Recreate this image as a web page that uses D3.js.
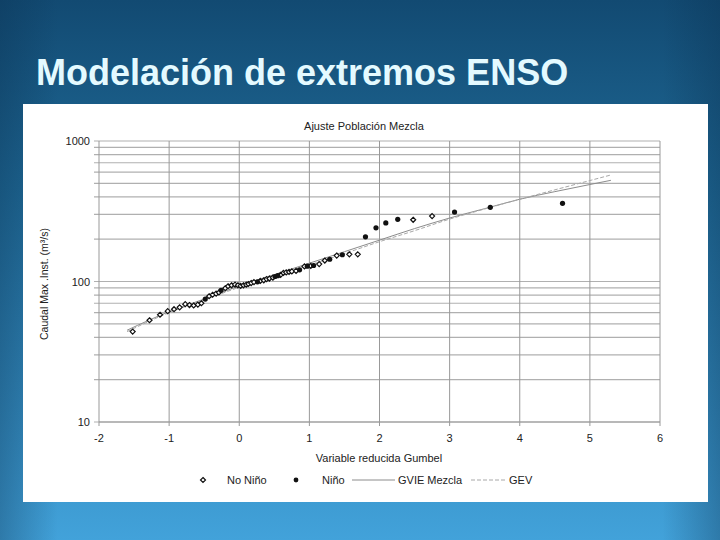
<!DOCTYPE html>
<html><head><meta charset="utf-8">
<script src="https://cdn.jsdelivr.net/npm/d3@7"></script>
<style>html,body{margin:0;padding:0;background:#1b5a84;}svg{display:block;}</style>
</head><body>
<script>
// ---- data ----
const noNinoU = [-1.52,-1.28,-1.13,-1.02,-0.93,-0.85,-0.77,-0.71,-0.65,-0.59,-0.54,-0.43,-0.38,-0.33,-0.29,-0.20,-0.16,-0.11,-0.06,-0.02,0.02,0.06,0.10,0.13,0.17,0.21,0.30,0.35,0.39,0.43,0.48,0.59,0.63,0.67,0.71,0.75,0.81,0.93,1.02,1.14,1.22,1.39,1.57,1.69,2.48,2.75];
const noNinoQ = [44,53,58,61.5,63.5,65.5,69,68,67.5,68.5,70,78.5,80.5,82,83.5,89.5,92.5,94,95,94,93,94,95,96,97.5,99,101,102,104,105,106.5,111.5,115,116,117,118,119,128,129,133,141,153,156,156,275,292];
const ninoU = [-0.485,-0.26,0.26,0.51,0.55,0.86,0.97,1.06,1.29,1.47,1.80,1.95,2.09,2.26,3.07,3.58,4.61];
const ninoQ = [75,86.5,99.5,108.5,110,121,128.5,130,144,155,208,241,261,277,312,337,360];
const fitU  = [-1.6,-1,-0.5,0,0.5,1,1.5,2,2.5,3,3.5,4,4.5,5,5.3];
const gvieQ = [45,61,75,93,112,135,163,197,238,283,330,385,436,490,525];
const gevQ  = [44,60,74,91,110,131,158,192,230,278,328,385,449,523,573];
const xTicks = [-2,-1,0,1,2,3,4,5,6];
const yTicks = [10,100,1000];
const slideTitle = "Modelación de extremos ENSO";
const chartTitle = "Ajuste Población Mezcla";
const xTitle = "Variable reducida Gumbel";
const yTitle = "Caudal Max .Inst. (m³/s)";
const legendItems = ["No Niño","Niño","GVIE Mezcla","GEV"];

const W = 720, H = 540;
const svg = d3.select("body").append("svg").attr("width", W).attr("height", H);
const defs = svg.append("defs");
const g1 = defs.append("linearGradient").attr("id","bg").attr("x1",0).attr("y1",0).attr("x2",0).attr("y2",1);
g1.append("stop").attr("offset","0%").attr("stop-color","#124a72");
g1.append("stop").attr("offset","35%").attr("stop-color","#1f6996");
g1.append("stop").attr("offset","100%").attr("stop-color","#42a2da");
const g2 = defs.append("linearGradient").attr("id","side").attr("x1",0).attr("y1",0).attr("x2",1).attr("y2",0);
g2.append("stop").attr("offset","0%").attr("stop-color","#0a3050").attr("stop-opacity",0.35);
g2.append("stop").attr("offset","8%").attr("stop-color","#0a3050").attr("stop-opacity",0);
g2.append("stop").attr("offset","92%").attr("stop-color","#0a3050").attr("stop-opacity",0);
g2.append("stop").attr("offset","100%").attr("stop-color","#0a3050").attr("stop-opacity",0.35);
svg.append("rect").attr("width",W).attr("height",H).attr("fill","url(#bg)");
svg.append("rect").attr("width",W).attr("height",H).attr("fill","url(#side)");

svg.append("text").attr("x",36).attr("y",85)
  .attr("font-family","Liberation Sans, Arial, sans-serif").attr("font-size",36).attr("font-weight","bold")
  .attr("fill","#e4faff").text(slideTitle);

// white panel
svg.append("rect").attr("x",23).attr("y",104).attr("width",685).attr("height",398).attr("fill","#ffffff");

const x = d3.scaleLinear().domain([-2,6]).range([99,660]);
const y = d3.scaleLog().domain([10,1000]).range([422,141]);
const font = "Liberation Sans, Arial, sans-serif";

// gridlines
const minor = y.ticks();
svg.append("g").selectAll("line").data(minor).join("line")
  .attr("x1",94).attr("x2",660).attr("y1",d=>y(d)).attr("y2",d=>y(d))
  .attr("stroke","#b0b0b0").attr("stroke-width",1.2);
svg.append("g").selectAll("line").data(xTicks).join("line")
  .attr("x1",d=>x(d)).attr("x2",d=>x(d)).attr("y1",141).attr("y2",426)
  .attr("stroke","#999").attr("stroke-width",1);
svg.append("line").attr("x1",99).attr("x2",660).attr("y1",y(10)).attr("y2",y(10)).attr("stroke","#999");

// axes labels
svg.append("g").selectAll("text").data(yTicks).join("text")
  .attr("x",90).attr("y",d=>y(d)+4).attr("text-anchor","end")
  .attr("font-family",font).attr("font-size",11).attr("fill","#222").text(d=>d);
svg.append("g").selectAll("text").data(xTicks).join("text")
  .attr("x",d=>x(d)).attr("y",442).attr("text-anchor","middle")
  .attr("font-family",font).attr("font-size",11).attr("fill","#222").text(d=>d);

svg.append("text").attr("x",364).attr("y",130).attr("text-anchor","middle")
  .attr("font-family",font).attr("font-size",11).attr("fill","#222").text(chartTitle);
svg.append("text").attr("x",379).attr("y",462).attr("text-anchor","middle")
  .attr("font-family",font).attr("font-size",11).attr("fill","#222").text(xTitle);
svg.append("text").attr("transform","translate(48,284) rotate(-90)").attr("text-anchor","middle")
  .attr("font-family",font).attr("font-size",10.5).attr("fill","#222").text(yTitle);

// fitted lines
const fitData = (arr) => fitU.map((u,i)=>[u,arr[i]]);
const line = d3.line().x(d=>x(d[0])).y(d=>y(d[1])).curve(d3.curveMonotoneX);
svg.append("path").attr("d",line(fitData(gvieQ))).attr("fill","none").attr("stroke","#8c8c8c").attr("stroke-width",1);
svg.append("path").attr("d",line(fitData(gevQ))).attr("fill","none").attr("stroke","#a8a8a8").attr("stroke-width",1).attr("stroke-dasharray","4,2");

// points
const diamond = d3.symbol().type(d3.symbolDiamond2).size(16);
svg.append("g").selectAll("path").data(noNinoU.map((u,i)=>[u,noNinoQ[i]])).join("path")
  .attr("d",diamond).attr("transform",d=>`translate(${x(d[0])},${y(d[1])})`)
  .attr("fill","#fff").attr("stroke","#111").attr("stroke-width",1.2);
svg.append("g").selectAll("circle").data(ninoU.map((u,i)=>[u,ninoQ[i]])).join("circle")
  .attr("cx",d=>x(d[0])).attr("cy",d=>y(d[1])).attr("r",2.6).attr("fill","#111");

// legend
const ly = 480;
svg.append("path").attr("d",diamond).attr("transform",`translate(203,${ly})`).attr("fill","#fff").attr("stroke","#111").attr("stroke-width",1.2);
svg.append("circle").attr("cx",296).attr("cy",ly).attr("r",2.4).attr("fill","#111");
svg.append("line").attr("x1",352).attr("x2",395).attr("y1",ly).attr("y2",ly).attr("stroke","#8c8c8c");
svg.append("line").attr("x1",471).attr("x2",506).attr("y1",ly).attr("y2",ly).attr("stroke","#a8a8a8").attr("stroke-dasharray","4,2");
const lx = [227,322,398,509];
svg.append("g").selectAll("text").data(legendItems).join("text")
  .attr("x",(d,i)=>lx[i]).attr("y",ly+4).attr("font-family",font).attr("font-size",11).attr("fill","#222").text(d=>d);
</script>
</body></html>
